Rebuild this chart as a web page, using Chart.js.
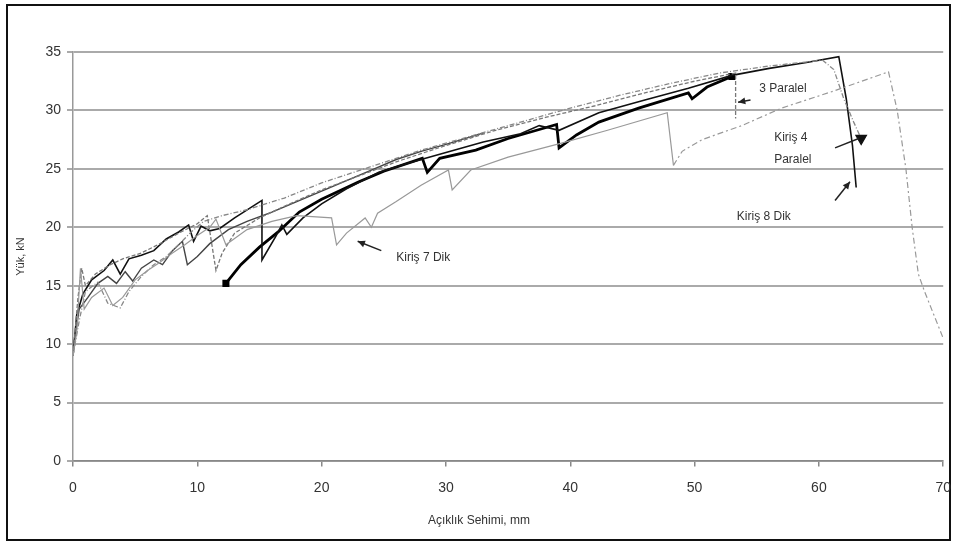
<!DOCTYPE html>
<html>
<head>
<meta charset="utf-8">
<script src="https://cdn.jsdelivr.net/npm/chart.js@4.4.1/dist/chart.umd.min.js"></script>
<style>
html, body { margin: 0; padding: 0; background: #fff; }
</style>
</head>
<body>
<canvas id="mycanvas" width="953" height="542"></canvas>
<script>
// load (kN) vs midspan deflection (mm) as [x, y] pairs
var kiris8Dik = [[0,9],[0.3,12.5],[0.8,14.3],[1.5,15.5],[2.5,16.3],[3.2,17.2],[3.8,16],[4.5,17.3],[5.5,17.6],[6.5,18],[7.5,19],[8.5,19.6],[9.3,20.2],[9.7,18.8],[10.3,20.1],[11,19.7],[11.8,19.9],[13,20.8],[15.2,22.3],[15.2,17.2],[16.3,19.2],[16.8,20.2],[17.2,19.4],[18.5,20.8],[20,22],[22,23.3],[24.6,24.7],[27,25.5],[30,26.4],[33,27.3],[36,28],[37.5,28.7],[39.1,28.3],[42.3,29.8],[46,30.9],[49.5,31.9],[53,33],[56,33.6],[59,34.1],[61.6,34.6],[62.2,31],[62.7,27],[63,23.4]];
var kirisKalin = [[12.3,15.2],[13.5,16.8],[15,18.3],[16.5,19.6],[18.2,21.3],[20,22.4],[23,23.9],[25,24.8],[28.1,25.9],[28.5,24.7],[29.5,25.9],[32.4,26.6],[35,27.6],[38.9,28.8],[39.1,26.8],[40.5,27.9],[42.3,29],[45.5,30.2],[49.5,31.5],[49.8,31],[51,32],[53,32.9]];
var kirisKisa = [[0,9.5],[0.5,13],[1.2,14],[2,15.2],[2.8,15.8],[3.5,15.2],[4.2,16.2],[4.8,15.4],[5.5,16.5],[6.5,17.2],[7.2,16.8],[8,18],[8.8,18.8],[9.2,16.8],[10,17.5],[11,18.6],[12.5,19.8],[14,20.5],[16,21.3],[18,22.2],[20,23.1],[22,24],[24,24.9],[26,25.8],[28,26.5],[30,27.1],[33.1,28.1]];
var kiris3Paralel = [[0,9],[0.4,14],[0.7,16.5],[1,15],[1.8,16],[3,16.8],[4,17.3],[5.5,17.8],[7,18.6],[8.5,19.5],[10,20.3],[10.8,21],[11.5,16.3],[12,17.8],[13,19.5],[15,20.8],[17,21.8],[20,23.2],[23,24.4],[26,25.6],[30,27],[34,28.3],[38,29.4],[42,30.4],[46,31.5],[50,32.5],[53.3,33.2],[53.3,29.3]];
var kiris4Paralel = [[0,9],[0.5,12],[1,14.5],[2,15.3],[2.8,13.5],[3.8,13.1],[4.5,14.5],[5.5,15.8],[6.5,16.8],[7.5,17.5],[8.5,18.5],[9.5,19.6],[10.5,20.5],[12,21],[14,21.5],[17,22.5],[20,23.8],[24,25.2],[28,26.6],[32,27.8],[36,29],[40,30.2],[44,31.3],[48,32.3],[52,33.2],[56,33.8],[60.3,34.3],[61.2,33.5],[62,31],[62.8,29],[63.4,27.6]];
var kiris7Dik = [[0,9],[0.3,11],[0.6,16.5],[0.9,13],[1.5,14],[2.5,14.8],[3.2,13.3],[4,14],[5,15.5],[6,16.3],[7,17],[8,17.8],[9,18.5],[10,19.3],[11,20],[11.5,20.7],[12.3,18.5],[14,19.8],[16,20.5],[18,21],[20.8,20.8],[21.2,18.5],[22,19.5],[23.5,20.8],[24,20],[24.5,21.2],[26,22.2],[28,23.6],[30.2,24.9],[30.5,23.2],[32,24.9],[35,26],[39.3,27.2],[43,28.3],[47.8,29.8],[48.3,25.3],[49,26.5],[50.6,27.5],[53.8,28.7],[57,30.2],[61.3,31.7],[65.6,33.3],[66.3,30],[67,25],[67.5,20],[68,16],[68.5,14.5],[70,10.5]];

var xTicks = [0, 10, 20, 30, 40, 50, 60, 70];
var yTicks = [0, 5, 10, 15, 20, 25, 30, 35];
var xTitle = "Açıklık Sehimi, mm";
var yTitle = "Yük, kN";

// labels and arrows, placed in data units
var notes = [
  { text: "Kiriş 7 Dik", x: 26.0, y: 17.4 },
  { text: "3 Paralel", x: 55.2, y: 31.9 },
  { text: "Kiriş 4", x: 56.4, y: 27.7 },
  { text: "Paralel", x: 56.4, y: 25.8 },
  { text: "Kiriş 8 Dik", x: 53.4, y: 20.9 }
];
var arrows = [
  { from: [24.8, 18.0], to: [22.9, 18.8], head: true },
  { from: [54.5, 30.9], to: [53.5, 30.7], head: true },
  { from: [61.3, 26.8], to: [63.2, 27.6], head: false },
  { from: [61.3, 22.3], to: [62.5, 23.9], head: true }
];

function pts(list) {
  var out = [];
  for (var i in list) out.push({ x: list[i][0], y: list[i][1] });
  return out;
}

var chartdata = {
  datasets: [
    {
      label: "Kiriş 7 Dik",
      data: pts(kiris7Dik),
      borderColor: "#999",
      borderWidth: 1.2,
      pointRadius: 0,
      segment: {
        borderDash: function(c) { return c.p0.parsed.x >= 48.3 ? [6, 3, 2, 3] : undefined; }
      }
    },
    {
      label: "Kiriş 3 Paralel",
      data: pts(kiris3Paralel),
      borderColor: "#777",
      borderWidth: 1.3,
      borderDash: [4, 2],
      pointRadius: 0
    },
    {
      label: "Kiriş 4 Paralel",
      data: pts(kiris4Paralel),
      borderColor: "#888",
      borderWidth: 1.3,
      borderDash: [5, 2, 1, 2],
      pointRadius: function(c) { return c.dataIndex === kiris4Paralel.length - 1 ? 6 : 0; },
      pointStyle: "triangle",
      rotation: 180,
      pointBackgroundColor: "#111",
      pointBorderColor: "#111"
    },
    {
      label: "kisa",
      data: pts(kirisKisa),
      borderColor: "#444",
      borderWidth: 1.4,
      pointRadius: 0
    },
    {
      label: "Kiriş 8 Dik",
      data: pts(kiris8Dik),
      borderColor: "#111",
      borderWidth: 1.6,
      pointRadius: 0
    },
    {
      label: "kalin",
      data: pts(kirisKalin),
      borderColor: "#000",
      borderWidth: 2.8,
      pointRadius: function(c) { return (c.dataIndex === 0 || c.dataIndex === kirisKalin.length - 1) ? 3 : 0; },
      pointStyle: "rect",
      pointBackgroundColor: "#000",
      pointBorderColor: "#000"
    }
  ]
};

var frameAndNotes = {
  id: "frameAndNotes",
  beforeDraw: function(chart) {
    var ctx = chart.ctx;
    ctx.save();
    ctx.fillStyle = "#fff";
    ctx.fillRect(0, 0, chart.width, chart.height);
    ctx.strokeStyle = "#111";
    ctx.lineWidth = 2;
    ctx.strokeRect(7, 5, 943, 535);
    ctx.restore();
  },
  afterDraw: function(chart) {
    var ctx = chart.ctx;
    var xs = chart.scales.x, ys = chart.scales.y;
    ctx.save();
    ctx.fillStyle = "#333";
    ctx.font = "12px 'Liberation Sans', Arial, sans-serif";
    ctx.textBaseline = "middle";
    ctx.textAlign = "left";
    for (var i in notes) {
      ctx.fillText(notes[i].text, xs.getPixelForValue(notes[i].x), ys.getPixelForValue(notes[i].y));
    }
    ctx.textAlign = "center";
    ctx.fillText(xTitle, 479, 521);

    ctx.strokeStyle = "#222";
    ctx.fillStyle = "#222";
    ctx.lineWidth = 1.5;
    for (var j in arrows) {
      var a = arrows[j];
      var x1 = xs.getPixelForValue(a.from[0]), y1 = ys.getPixelForValue(a.from[1]);
      var x2 = xs.getPixelForValue(a.to[0]), y2 = ys.getPixelForValue(a.to[1]);
      ctx.beginPath();
      ctx.moveTo(x1, y1);
      ctx.lineTo(x2, y2);
      ctx.stroke();
      if (a.head) {
        var ang = Math.atan2(y2 - y1, x2 - x1);
        ctx.beginPath();
        ctx.moveTo(x2, y2);
        ctx.lineTo(x2 - 8 * Math.cos(ang - 0.45), y2 - 8 * Math.sin(ang - 0.45));
        ctx.lineTo(x2 - 8 * Math.cos(ang + 0.45), y2 - 8 * Math.sin(ang + 0.45));
        ctx.closePath();
        ctx.fill();
      }
    }
    ctx.restore();
  }
};

var ctx = document.getElementById("mycanvas");

var LineGraph = new Chart(ctx, {
  type: "line",
  data: chartdata,
  plugins: [frameAndNotes],
  options: {
    responsive: false,
    animation: false,
    layout: { padding: { left: 8, right: 8, top: 52, bottom: 0 } },
    plugins: {
      legend: { display: false },
      tooltip: { enabled: false }
    },
    scales: {
      x: {
        type: "linear",
        min: 0,
        max: 70,
        afterBuildTicks: function(s) { s.ticks = xTicks.map(function(v) { return { value: v }; }); },
        afterFit: function(s) { s.height = 81; },
        ticks: {
          color: "#333",
          padding: 2,
          font: { family: "'Liberation Sans', Arial, sans-serif", size: 14 }
        },
        grid: { drawOnChartArea: false, tickLength: 17, tickBorderDash: [5, 40], color: "#888", lineWidth: 1.5 },
        border: { color: "#888", width: 1.5 }
      },
      y: {
        min: 0,
        max: 35,
        afterBuildTicks: function(s) { s.ticks = yTicks.map(function(v) { return { value: v }; }); },
        afterFit: function(s) { s.width = 65; },
        title: {
          display: true,
          text: yTitle,
          color: "#333",
          padding: { top: 6, bottom: 0 },
          font: { family: "'Liberation Sans', Arial, sans-serif", size: 11 }
        },
        ticks: {
          color: "#333",
          padding: 6,
          font: { family: "'Liberation Sans', Arial, sans-serif", size: 14 }
        },
        grid: { color: "#aaa", lineWidth: 2, tickLength: 6 },
        border: { color: "#999", width: 1.5 }
      }
    }
  }
});
</script>
</body>
</html>
